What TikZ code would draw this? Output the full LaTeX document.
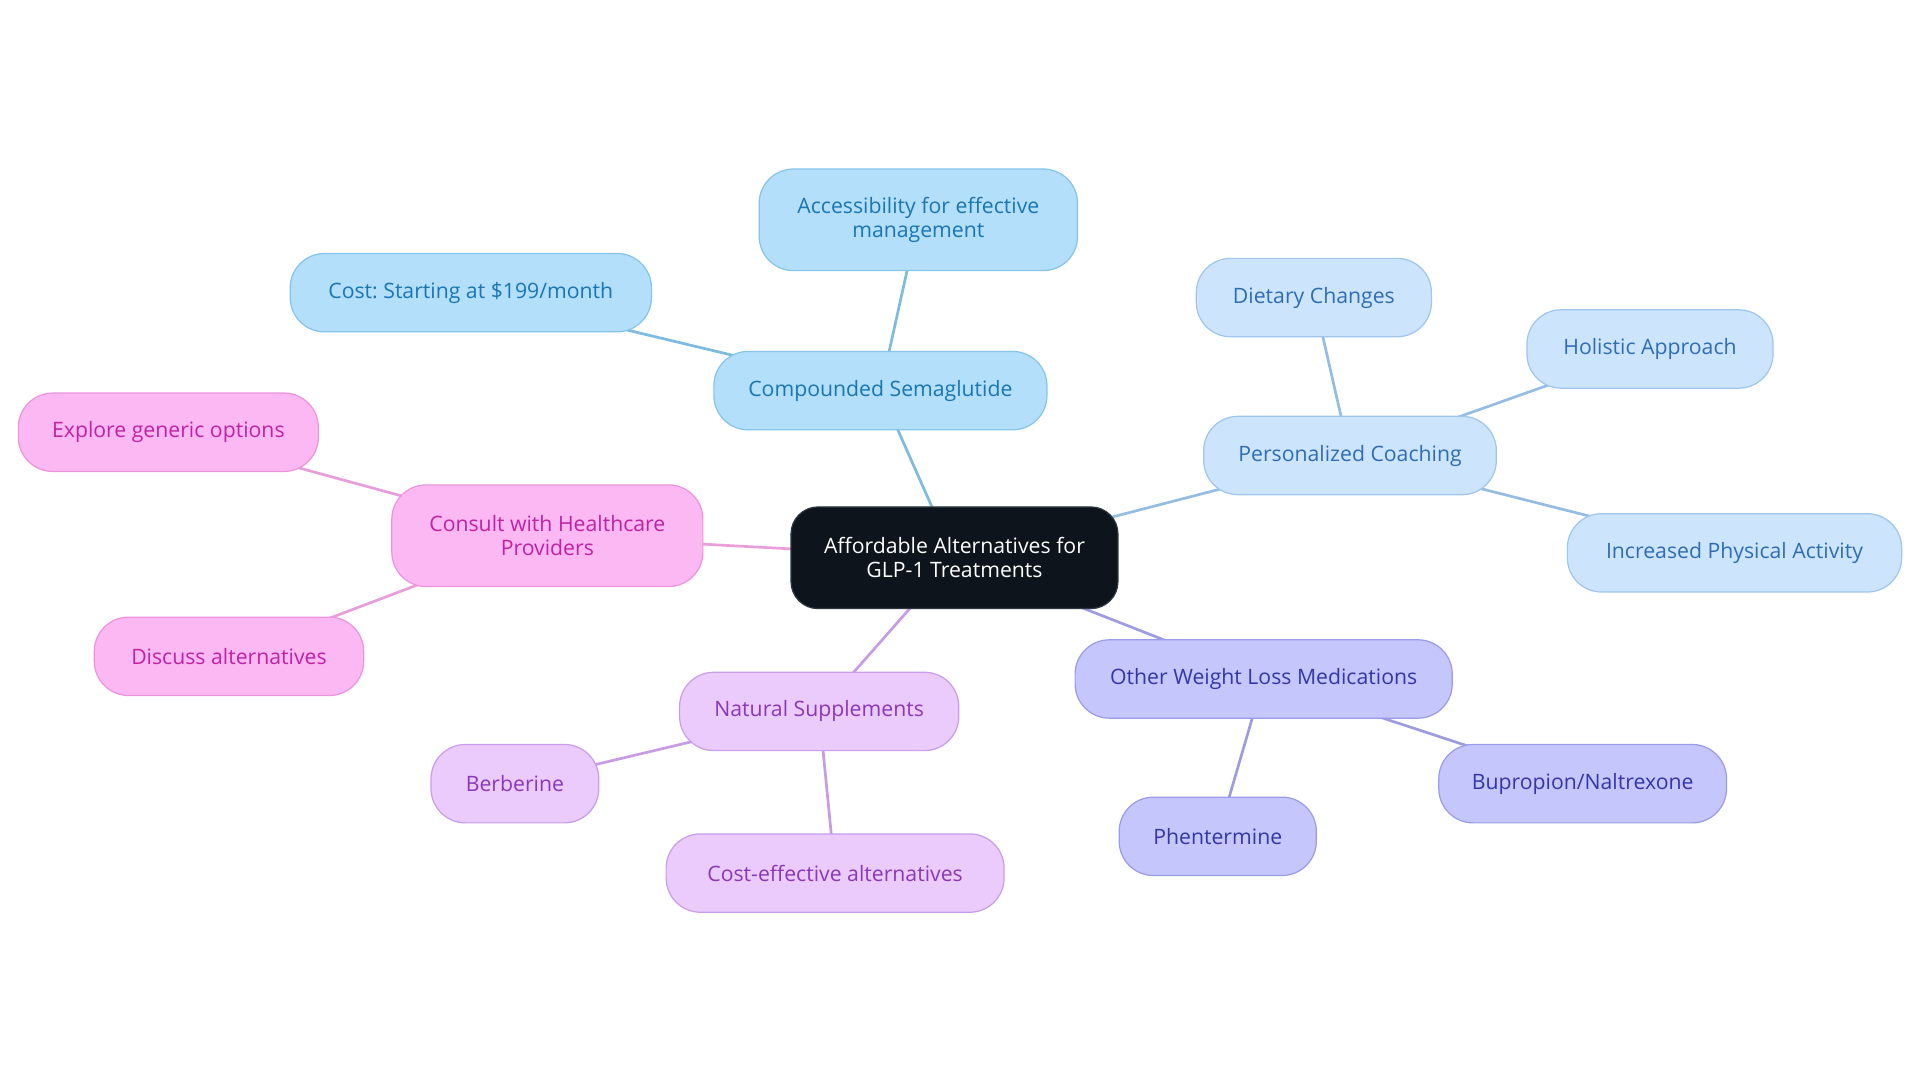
\documentclass[tikz,border=0pt]{standalone}
\usepackage{fontspec}
\setmainfont{Open Sans}
\usetikzlibrary{backgrounds}
\frenchspacing
\newlength{\du}
\setlength{\du}{0.75pt}
\definecolor{rootfill}{rgb}{0.051, 0.078, 0.110}
\definecolor{rootline}{rgb}{0.180, 0.210, 0.250}
\definecolor{semafill}{rgb}{0.702, 0.875, 0.980}
\definecolor{semaline}{rgb}{0.525, 0.769, 0.925}
\definecolor{sematext}{rgb}{0.098, 0.463, 0.698}
\definecolor{semaedge}{rgb}{0.490, 0.733, 0.882}
\definecolor{coachfill}{rgb}{0.804, 0.898, 0.988}
\definecolor{coachline}{rgb}{0.620, 0.776, 0.933}
\definecolor{coachtext}{rgb}{0.180, 0.427, 0.706}
\definecolor{coachedge}{rgb}{0.584, 0.741, 0.894}
\definecolor{medsfill}{rgb}{0.773, 0.780, 0.988}
\definecolor{medsline}{rgb}{0.604, 0.612, 0.910}
\definecolor{medstext}{rgb}{0.208, 0.208, 0.659}
\definecolor{medsedge}{rgb}{0.620, 0.612, 0.875}
\definecolor{suppfill}{rgb}{0.918, 0.796, 0.988}
\definecolor{suppline}{rgb}{0.784, 0.620, 0.918}
\definecolor{supptext}{rgb}{0.541, 0.220, 0.722}
\definecolor{suppedge}{rgb}{0.780, 0.612, 0.886}
\definecolor{consfill}{rgb}{0.988, 0.722, 0.949}
\definecolor{consline}{rgb}{0.925, 0.580, 0.867}
\definecolor{constext}{rgb}{0.749, 0.137, 0.639}
\definecolor{consedge}{rgb}{0.910, 0.620, 0.851}
\tikzset{
  mapnode/.style={rounded corners=28\du, line width=1\du, align=center, inner sep=0pt, minimum height=64\du, font=\fontsize{13pt}{14.5pt}\selectfont},
  rootnode/.style={mapnode, rounded corners=22\du, fill=rootfill, draw=rootline, text=white, minimum height=83\du},
  semanode/.style={mapnode, fill=semafill, draw=semaline, text=sematext},
  coachnode/.style={mapnode, fill=coachfill, draw=coachline, text=coachtext},
  medsnode/.style={mapnode, fill=medsfill, draw=medsline, text=medstext},
  suppnode/.style={mapnode, fill=suppfill, draw=suppline, text=supptext},
  consnode/.style={mapnode, fill=consfill, draw=consline, text=constext},
  branch/.style={line width=2.2\du}
}
\begin{document}
\begin{tikzpicture}
\pgftransformxscale{1.000000}
\pgftransformyscale{-1.000000}
\useasboundingbox (0\du,0\du) rectangle (1568\du,884.5\du);
% root
\node[rootnode, minimum width=267\du] (root) at (779.5\du,455.5\du){Affordable Alternatives for\\GLP-1 Treatments};
% compounded semaglutide
\node[semanode, minimum width=272\du] (sema) at (719\du,319\du){Compounded Semaglutide};
\node[semanode, minimum width=260\du, minimum height=83\du] (access) at (750\du,179.5\du){Accessibility for effective\\management};
\node[semanode, minimum width=295\du] (cost) at (384.5\du,239\du){Cost: Starting at \$199/month};
% personalized coaching
\node[coachnode, minimum width=239\du] (coach) at (1102.5\du,372\du){Personalized Coaching};
\node[coachnode, minimum width=192\du] (diet) at (1073\du,243\du){Dietary Changes};
\node[coachnode, minimum width=201\du] (holistic) at (1347.5\du,285\du){Holistic Approach};
\node[coachnode, minimum width=273\du] (activity) at (1416.5\du,451.5\du){Increased Physical Activity};
% other medications
\node[medsnode, minimum width=308\du] (meds) at (1032\du,554.5\du){Other Weight Loss Medications};
\node[medsnode, minimum width=161\du] (phen) at (994.5\du,683\du){Phentermine};
\node[medsnode, minimum width=235\du] (bupro) at (1292.5\du,640\du){Bupropion/Naltrexone};
% natural supplements
\node[suppnode, minimum width=228\du] (supp) at (669\du,581\du){Natural Supplements};
\node[suppnode, minimum width=137\du] (berb) at (420.5\du,640\du){Berberine};
\node[suppnode, minimum width=276\du] (costeff) at (682\du,713\du){Cost-effective alternatives};
% consult
\node[consnode, minimum width=254\du, minimum height=83\du] (consult) at (447\du,437.5\du){Consult with Healthcare\\Providers};
\node[consnode, minimum width=245\du] (generic) at (137.5\du,353\du){Explore generic options};
\node[consnode, minimum width=220\du] (discuss) at (187\du,536\du){Discuss alternatives};
% branches, behind the boxes
\begin{pgfonlayer}{background}
\draw[branch, semaedge] (root.center)--(sema.center);
\draw[branch, semaedge] (sema.center)--(access.center);
\draw[branch, semaedge] (sema.center)--(cost.center);
\draw[branch, coachedge] (root.center)--(coach.center);
\draw[branch, coachedge] (coach.center)--(diet.center);
\draw[branch, coachedge] (coach.center)--(holistic.center);
\draw[branch, coachedge] (coach.center)--(activity.center);
\draw[branch, medsedge] (root.center)--(meds.center);
\draw[branch, medsedge] (meds.center)--(phen.center);
\draw[branch, medsedge] (meds.center)--(bupro.center);
\draw[branch, suppedge] (root.center)--(supp.center);
\draw[branch, suppedge] (supp.center)--(berb.center);
\draw[branch, suppedge] (supp.center)--(costeff.center);
\draw[branch, consedge] (root.center)--(consult.center);
\draw[branch, consedge] (consult.center)--(generic.center);
\draw[branch, consedge] (consult.center)--(discuss.center);
\end{pgfonlayer}
\end{tikzpicture}
\end{document}
